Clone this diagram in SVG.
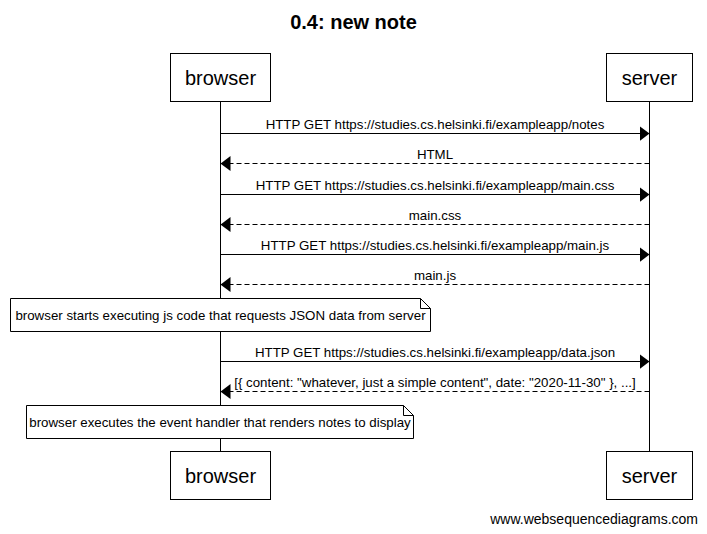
<svg xmlns="http://www.w3.org/2000/svg" width="707" height="534" viewBox="0 0 707 534">
<style>
  text { font-family: "Liberation Sans", Arial, sans-serif; fill: #000; }
  .title { font-size: 20px; font-weight: bold; text-anchor: middle; }
  .actor { font-size: 20px; text-anchor: middle; }
  .msg { font-size: 13.3px; text-anchor: middle; }
  .note-text { font-size: 13.3px; text-anchor: middle; }
  .footer { font-size: 14px; text-anchor: end; }
  .box { fill: #fff; stroke: #000; stroke-width: 1; }
  .life { stroke: #000; stroke-width: 1; fill: none; }
  .req { stroke: #000; stroke-width: 1; fill: none; marker-end: url(#ah); }
  .resp { stroke: #000; stroke-width: 1; fill: none; stroke-dasharray: 5,3; marker-end: url(#ah); }
</style>
<defs>
  <marker id="ah" markerUnits="userSpaceOnUse" markerWidth="10" markerHeight="15" refX="10" refY="7.5" orient="auto" viewBox="0 0 10 15">
    <path d="M0,0 L10,7.5 L0,15 Z" fill="#000"/>
  </marker>
</defs>
<rect x="0" y="0" width="707" height="534" fill="#fff"/>
<text class="title" x="353.5" y="29">0.4: new note</text>

<g id="lifelines">
  <line class="life" x1="220.5" y1="101.5" x2="220.5" y2="451.5"/>
  <line class="life" x1="649.5" y1="101.5" x2="649.5" y2="451.5"/>
</g>

<g id="browser">
  <rect class="box" x="170.5" y="53.5" width="100" height="48"/>
  <text class="actor" x="220.5" y="84.5">browser</text>
</g>
<g id="server">
  <rect class="box" x="606.5" y="53.5" width="86" height="48"/>
  <text class="actor" x="649.5" y="84.5">server</text>
</g>
<g id="browser-bottom">
  <rect class="box" x="170.5" y="451.5" width="100" height="48"/>
  <text class="actor" x="220.5" y="482.5">browser</text>
</g>
<g id="server-bottom">
  <rect class="box" x="606.5" y="451.5" width="86" height="48"/>
  <text class="actor" x="649.5" y="482.5">server</text>
</g>

<g id="connectors">
  <line class="req" x1="220.5" y1="133.5" x2="649.5" y2="133.5"/>
  <text class="msg" x="435" y="129">HTTP GET https://studies.cs.helsinki.fi/exampleapp/notes</text>
  <line class="resp" x1="649.5" y1="163.5" x2="220.5" y2="163.5"/>
  <text class="msg" x="435" y="159">HTML</text>
  <line class="req" x1="220.5" y1="194.5" x2="649.5" y2="194.5"/>
  <text class="msg" x="435" y="190">HTTP GET https://studies.cs.helsinki.fi/exampleapp/main.css</text>
  <line class="resp" x1="649.5" y1="224.5" x2="220.5" y2="224.5"/>
  <text class="msg" x="435" y="220">main.css</text>
  <line class="req" x1="220.5" y1="254.5" x2="649.5" y2="254.5"/>
  <text class="msg" x="435" y="250">HTTP GET https://studies.cs.helsinki.fi/exampleapp/main.js</text>
  <line class="resp" x1="649.5" y1="284.5" x2="220.5" y2="284.5"/>
  <text class="msg" x="435" y="280">main.js</text>
  <line class="req" x1="220.5" y1="361.5" x2="649.5" y2="361.5"/>
  <text class="msg" x="435" y="357">HTTP GET https://studies.cs.helsinki.fi/exampleapp/data.json</text>
  <line class="resp" x1="649.5" y1="391.5" x2="220.5" y2="391.5"/>
  <text class="msg" x="435" y="387">[{ content: "whatever, just a simple content", date: "2020-11-30" }, ...]</text>
</g>

<g id="note1">
  <path class="box" d="M10.5,298.5 L420.5,298.5 L430.5,308.5 L430.5,331.5 L10.5,331.5 Z"/>
  <path class="life" d="M420.5,298.5 L420.5,308.5 L430.5,308.5"/>
  <text class="note-text" x="220.5" y="319.5">browser starts executing js code that requests JSON data from server</text>
</g>
<g id="note2">
  <path class="box" d="M26.5,405.5 L403.5,405.5 L413.5,415.5 L413.5,438.5 L26.5,438.5 Z"/>
  <path class="life" d="M403.5,405.5 L403.5,415.5 L413.5,415.5"/>
  <text class="note-text" x="220" y="426.5">browser executes the event handler that renders notes to display</text>
</g>

<text class="footer" x="698" y="523.5">www.websequencediagrams.com</text>
</svg>
